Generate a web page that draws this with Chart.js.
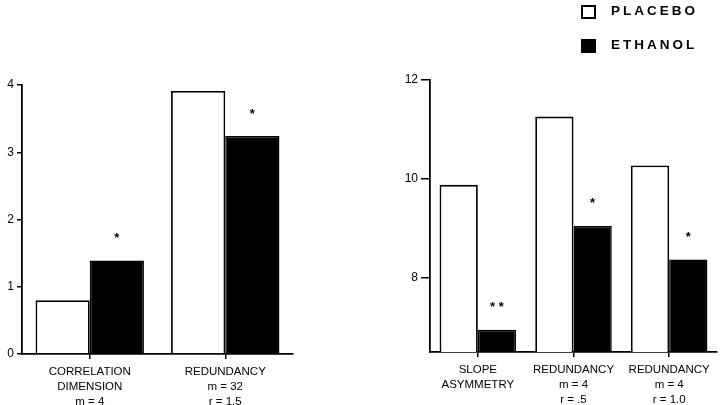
<!DOCTYPE html>
<html>
<head>
<meta charset="utf-8">
<script src="https://cdn.jsdelivr.net/npm/chart.js@4/dist/chart.umd.min.js"></script>
<style>
  body { margin: 0; background: #fff; }
  #wrap { position: relative; width: 720px; height: 405px; overflow: hidden; font-family: "Liberation Sans", Arial, sans-serif; }
  #leftBox { position: absolute; left: 0; top: 0; width: 300px; height: 405px; }
  #rightBox { position: absolute; left: 370px; top: 0; width: 350px; height: 405px; }
  .key { position: absolute; left: 581px; height: 14px; font-weight: bold; font-size: 13.5px; letter-spacing: 3px; color: #000; }
  .key span.box { position: absolute; left: 0; top: 0; width: 11px; height: 10px; border: 2px solid #000; }
  .key span.txt { position: absolute; left: 30px; top: -1px; white-space: nowrap; line-height: 14px; }
</style>
</head>
<body>
<div id="wrap">
  <div id="leftBox"><canvas id="leftChart"></canvas></div>
  <div id="rightBox"><canvas id="rightChart"></canvas></div>
  <div class="key" style="top:5px"><span class="box" style="background:#fff"></span><span class="txt">PLACEBO</span></div>
  <div class="key" style="top:39px"><span class="box" style="background:#000"></span><span class="txt">ETHANOL</span></div>
</div>
<script>
// left panel
const leftLabels = [['CORRELATION', 'DIMENSION', 'm = 4'], ['REDUNDANCY', 'm = 32', 'r = 1.5']];
const leftPlacebo = [0.80, 3.91];
const leftEthanol = [1.39, 3.24];
const leftStars = ['*', '*'];
const leftTicks = [0, 1, 2, 3, 4];

// right panel
const rightLabels = [['SLOPE', 'ASYMMETRY'], ['REDUNDANCY', 'm = 4', 'r = .5'], ['REDUNDANCY', 'm = 4', 'r = 1.0']];
const rightPlacebo = [9.88, 11.26, 10.27];
const rightEthanol = [6.95, 9.05, 8.37];
const rightStars = ['* *', '*', '*'];
const rightTicks = [8, 10, 12];

const font = "'Liberation Sans', Arial, sans-serif";

// draws the significance stars over the ethanol bars
const starPlugin = {
    id: 'stars',
    afterDatasetsDraw(chart, args, opts) {
        const ctx = chart.ctx;
        const bars = chart.getDatasetMeta(1).data;
        ctx.save();
        ctx.fillStyle = '#000';
        ctx.font = 'bold 13px ' + font;
        ctx.textAlign = 'center';
        ctx.textBaseline = 'middle';
        bars.forEach((bar, i) => {
            if (opts.marks[i]) ctx.fillText(opts.marks[i], bar.x, bar.y - 22);
        });
        ctx.restore();
    }
};

function makeChart(id, labels, placebo, ethanol, stars, tickVals, yMin, yMax, yWidth, xHeight, padTop, padRight, yTickLen) {
    return new Chart(document.getElementById(id), {
        type: 'bar',
        data: {
            labels: labels,
            datasets: [
                { label: 'PLACEBO', data: placebo, backgroundColor: '#fff', borderColor: '#000', borderWidth: 1.8 },
                { label: 'ETHANOL', data: ethanol, backgroundColor: '#000', borderColor: '#000', borderWidth: 1.5 }
            ]
        },
        plugins: [starPlugin],
        options: {
            responsive: true,
            maintainAspectRatio: false,
            animation: false,
            layout: { padding: { top: padTop, right: padRight, left: 0, bottom: 0 } },
            datasets: { bar: { categoryPercentage: 0.8, barPercentage: 1 } },
            plugins: {
                legend: { display: false },
                tooltip: { enabled: false },
                stars: { marks: stars }
            },
            scales: {
                x: {
                    grid: { offset: false, drawOnChartArea: false, drawTicks: true, tickLength: 5, color: '#000', lineWidth: 1.5 },
                    border: { display: true, color: '#000', width: 1.8 },
                    ticks: { color: '#000', font: { family: font, size: 11.5, lineHeight: 1.3 }, padding: 5, maxRotation: 0, autoSkip: false },
                    afterFit(scale) { scale.height = xHeight; }
                },
                y: {
                    min: yMin,
                    max: yMax,
                    grid: { drawOnChartArea: false, drawTicks: true, tickLength: yTickLen, color: '#000', lineWidth: 1.5 },
                    border: { display: true, color: '#000', width: 1.8 },
                    ticks: { color: '#000', font: { family: font, size: 12 }, padding: 3 },
                    afterBuildTicks(scale) { scale.ticks = tickVals.map(v => ({ value: v })); },
                    afterFit(scale) { scale.width = yWidth; }
                }
            }
        }
    });
}

makeChart('leftChart', leftLabels, leftPlacebo, leftEthanol, leftStars, leftTicks, 0, 4, 22, 51, 85, 7, 5);
makeChart('rightChart', rightLabels, rightPlacebo, rightEthanol, rightStars, rightTicks, 6.5, 12, 60, 53, 80, 3, 9);
</script>
</body>
</html>
